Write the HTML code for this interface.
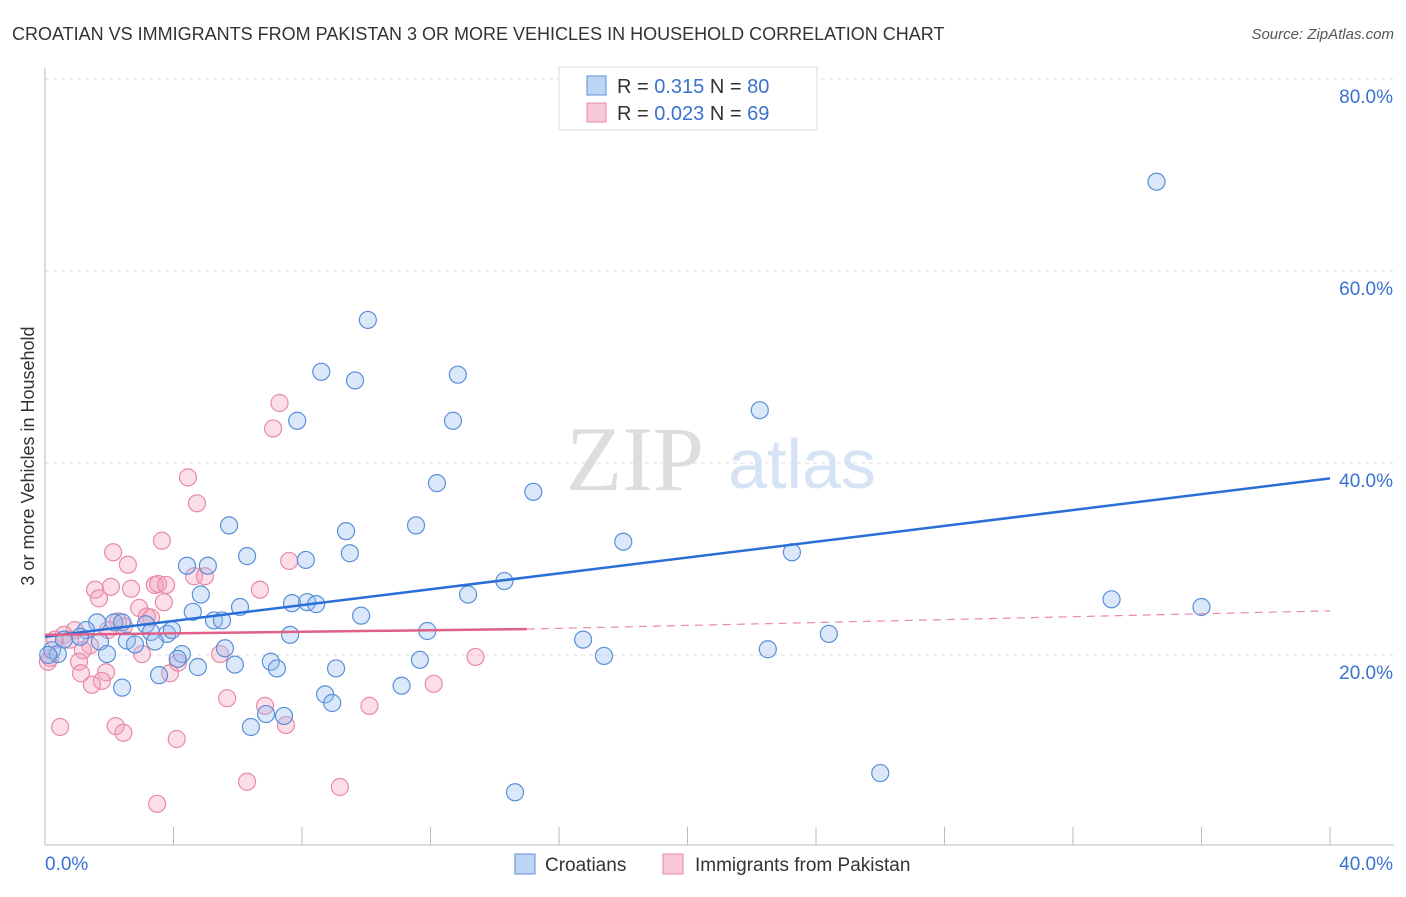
<!DOCTYPE html>
<html><head><meta charset="utf-8"><style>
body{margin:0;background:#fff;font-family:"Liberation Sans",sans-serif}
</style></head><body>
<svg id="c" width="1406" height="892" xmlns="http://www.w3.org/2000/svg" style="font-family:'Liberation Sans',sans-serif">
<text x="12" y="40" font-size="18" fill="#333">CROATIAN VS IMMIGRANTS FROM PAKISTAN 3 OR MORE VEHICLES IN HOUSEHOLD CORRELATION CHART</text>
<text x="1394" y="39" font-size="15" fill="#555" font-style="italic" text-anchor="end">Source: ZipAtlas.com</text>
<g>
<text x="635" y="490" font-size="92" fill="#ddd" font-family="Liberation Serif,serif" text-anchor="middle">ZIP</text>
<text x="802" y="488" font-size="70" fill="#d5e3f5" text-anchor="middle">atlas</text>
</g>
<g id="grid"></g><g id="axes"></g><g id="marks"></g>
<text transform="translate(34,456) rotate(-90)" font-size="18" fill="#333" text-anchor="middle">3 or more Vehicles in Household</text>
<g>
<rect x="559" y="67" width="258" height="63" fill="#fff" stroke="#ddd"/>
<rect x="587" y="76" width="19" height="19" fill="#bcd5f5" stroke="#5b8fd9"/>
<rect x="587" y="103" width="19" height="19" fill="#f9c8d6" stroke="#e68aa5"/>
<text x="617" y="93" font-size="20" fill="#333">R = <tspan fill="#3a72d0">0.315</tspan>   N = <tspan fill="#3a72d0">80</tspan></text>
<text x="617" y="120" font-size="20" fill="#333">R = <tspan fill="#3a72d0">0.023</tspan>   N = <tspan fill="#3a72d0">69</tspan></text>
</g>
<g>
<rect x="515" y="854" width="20" height="20" fill="#bcd5f5" stroke="#5b8fd9"/>
<text x="545" y="871" font-size="19" fill="#333">Croatians</text>
<rect x="663" y="854" width="20" height="20" fill="#f9c8d6" stroke="#e68aa5"/>
<text x="695" y="871" font-size="19" fill="#333">Immigrants from Pakistan</text>
</g>
</svg>
<script>
const blueX=[34.6,10.05,8.6,9.65,12.85,7.85,12.7,22.25,12.2,15.2,5.73,11.55,9.37,18.0,9.49,6.29,8.12,23.25,4.42,5.07,14.3,4.85,13.17,33.2,7.69,8.16,8.44,6.07,36.0,4.6,9.84,5.26,5.51,1.62,2.15,2.4,3.14,1.28,3.3,3.8,3.95,11.9,7.63,24.4,1.09,0.59,1.71,2.55,16.75,2.8,3.42,5.6,0.22,0.4,1.93,4.26,22.5,17.4,4.13,7.03,11.67,4.76,5.91,7.22,9.06,3.55,2.4,11.1,8.72,8.94,6.88,7.44,6.41,26.0,14.63,0.1];
const blueY=[69.3,54.9,49.5,48.6,49.2,44.4,44.4,45.5,37.9,37.0,33.5,33.5,32.9,31.8,30.6,30.3,29.9,30.7,29.3,29.3,27.7,26.3,26.3,25.8,25.4,25.5,25.3,25.0,25.0,24.5,24.1,23.6,23.6,23.4,23.4,23.4,23.2,22.6,22.4,22.2,22.6,22.5,22.1,22.2,21.9,21.6,21.4,21.5,21.6,21.1,21.4,20.7,20.5,20.1,20.1,20.1,20.6,19.9,19.6,19.3,19.5,18.75,19.0,18.6,18.6,17.9,16.6,16.8,15.9,15.0,13.85,13.65,12.5,7.7,5.7,20.0];
const pinkX=[7.3,7.1,4.45,4.73,3.64,2.12,2.58,7.6,4.64,4.98,3.42,3.52,3.77,2.05,1.56,2.68,6.69,1.68,3.7,2.93,3.3,2.27,2.46,3.17,0.93,0.59,1.96,0.31,0.78,1.4,1.18,3.02,0.16,0.09,1.06,5.45,13.4,4.14,1.9,1.12,3.89,1.77,1.46,12.1,5.67,6.85,10.1,7.5,0.47,2.2,2.44,4.1,6.29,9.18,3.49];
const pinkY=[46.25,43.6,38.5,35.8,31.9,30.7,29.4,29.8,28.2,28.2,27.3,27.4,27.3,27.1,26.8,26.9,26.8,25.9,25.5,24.9,23.9,23.5,23.0,24.0,22.6,22.1,22.6,21.6,21.6,21.0,20.5,20.1,19.7,19.3,19.3,20.1,19.8,19.2,18.2,18.1,18.1,17.3,16.9,17.0,15.5,14.7,14.7,12.7,12.5,12.6,11.9,11.25,6.8,6.25,4.5];
const blueTrend=[21.9,38.4];
const pinkTrend=[22.1,22.7,24.6];
const xTicks=[0,4,8,12,16,20,24,28,32,36,40];
const yTicks=[20,40,60,80];
const X=v=>45+v*32.125, Y=v=>847-v*9.6;
const NS="http://www.w3.org/2000/svg";
function mk(t,a,p){const e=document.createElementNS(NS,t);for(const k in a)e.setAttribute(k,a[k]);p.appendChild(e);return e;}
const grid=document.getElementById('grid'),axes=document.getElementById('axes'),marks=document.getElementById('marks');
yTicks.forEach(v=>{
 const l=mk('line',{x1:45,x2:1394,y1:Y(v),y2:Y(v),stroke:'#ddd','stroke-dasharray':'4,4'},grid);
 
 
 const t=mk('text',{x:1393,y:Y(v)+24,'font-size':19,fill:'#3a72d0','text-anchor':'end'},axes);
 t.textContent=v.toFixed(1)+'%';
 
 
});
const ax=mk('line',{x1:45,x2:1394,y1:845,y2:845,stroke:'#bbb'},axes);


const ay=mk('line',{x1:45,x2:45,y1:68,y2:845,stroke:'#bbb'},axes);


xTicks.forEach(v=>{
 const l=mk('line',{x1:X(v),x2:X(v),y1:827,y2:845,stroke:'#bbb'},axes);
 
 
});
[[0,'start'],[40,'end']].forEach(([v,a])=>{
 const t=mk('text',{x:v===0?45:1393,y:870,'font-size':19,fill:'#3a72d0','text-anchor':a},axes);
 t.textContent=v.toFixed(1)+'%';
 
 
});
pinkX.forEach((x,i)=>{
 const c=mk('circle',{cx:X(x),cy:Y(pinkY[i]),r:8.5,fill:'rgba(244,160,185,0.35)',stroke:'#e88aa8','stroke-width':1.2},marks);
 
 
});
blueX.forEach((x,i)=>{
 const c=mk('circle',{cx:X(x),cy:Y(blueY[i]),r:8.5,fill:'rgba(150,190,240,0.35)',stroke:'#5b8fd9','stroke-width':1.2},marks);
 
 
});
const bl=mk('line',{x1:X(0),y1:Y(blueTrend[0]),x2:X(40),y2:Y(blueTrend[1]),stroke:'#2a6fd6','stroke-width':2.5},marks);


const pl=mk('line',{x1:X(0),y1:Y(pinkTrend[0]),x2:X(15),y2:Y(pinkTrend[1]),stroke:'#e0608a','stroke-width':2.5},marks);


const pd=mk('line',{x1:X(15),y1:Y(pinkTrend[1]),x2:X(40),y2:Y(pinkTrend[2]),stroke:'#e88aa8','stroke-width':1.2,'stroke-dasharray':'8,6'},marks);


</script>
</body></html>
